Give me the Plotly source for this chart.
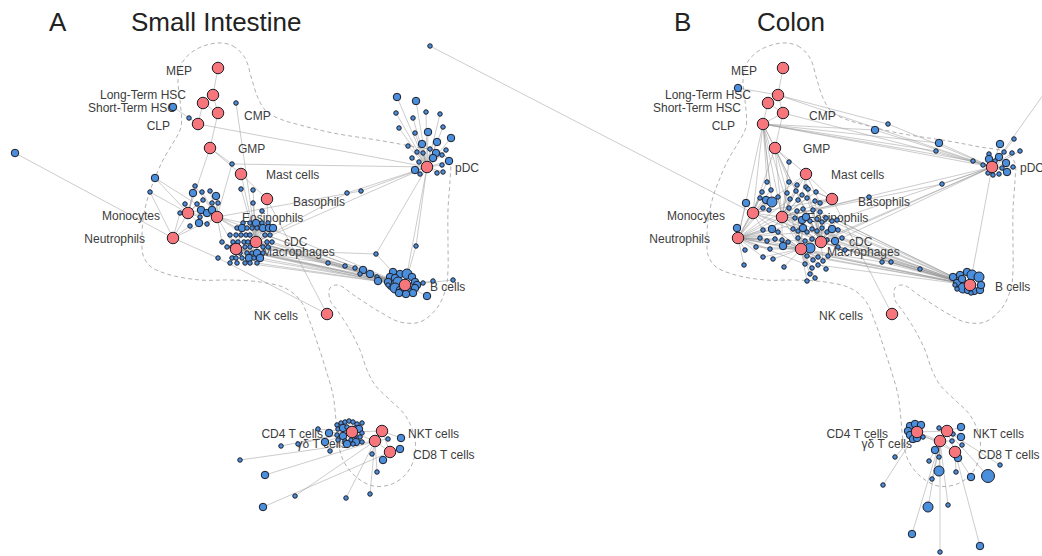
import plotly.graph_objects as go

# ---------------------------------------------------------------------------
# Cell-type hubs (shared layout for both tissues, layout units)
# ---------------------------------------------------------------------------
HUB_KEYS = ["MEP", "LT", "ST", "CMP", "CLP", "GMP", "MAST", "BASO", "MONO", "EOS",
            "NEUT", "CDC", "MAC", "PDC", "BC", "NK", "CD4", "NKT", "GD", "CD8"]
HUB_NAMES = ["MEP", "Long-Term HSC", "Short-Term HSC", "CMP", "CLP", "GMP", "Mast cells",
             "Basophils", "Monocytes", "Eosinophils", "Neutrophils", "cDC", "Macrophages",
             "pDC", "B cells", "NK cells", "CD4 T cells", "NKT cells", "γδ T cells", "CD8 T cells"]
HUB_X = [218, 213, 203, 218, 198, 210, 241, 267, 188, 217, 173, 256, 236, 427, 405, 327, 352, 382, 375, 390]
HUB_Y = [68, 95, 103, 113, 124, 148, 174, 199, 213, 217, 238, 242, 249, 167, 285, 314, 432, 431, 441, 452]

# label anchor points (L = text ends at the point, R = text starts at the point)
LABEL_X = [192, 186, 176, 244, 170, 238, 266, 293, 160, 242, 145, 284, 262, 455, 430, 298, 323, 408, 347, 413]
LABEL_Y = [72, 96, 109, 117, 127, 150, 176, 203, 217, 219, 240, 243, 253, 169, 288, 317, 435, 435, 445, 456]
LABEL_SIDE = ["L", "L", "L", "R", "L", "R", "R", "R", "L", "R", "L", "R", "R", "R", "R", "L", "L", "R", "L", "R"]

# outline of the hematopoietic region (dashed contour)
CONTOUR_X = [217, 233, 245, 252, 258, 266, 280, 300, 333, 383, 415, 440, 450, 450, 448, 448, 448, 446, 437,
             420, 400, 380, 355, 338, 330, 330, 337, 350, 360, 367, 375, 390, 405, 414, 415, 407, 392, 373,
             355, 343, 338, 336, 333, 326, 318, 310, 300, 285, 260, 230, 200, 167, 150, 143, 142, 143, 148,
             155, 163, 173, 181, 180, 178, 182, 195, 217]
CONTOUR_Y = [43, 46, 58, 80, 98, 111, 119, 125, 133, 141, 147, 152, 163, 180, 210, 245, 270, 288, 308,
             322, 322, 312, 296, 285, 288, 300, 310, 330, 350, 370, 385, 400, 415, 435, 455, 473, 484, 486,
             476, 460, 440, 420, 395, 370, 345, 322, 300, 288, 282, 280, 280, 274, 266, 255, 240, 220, 197,
             178, 160, 143, 127, 100, 80, 63, 50, 43]

# ---------------------------------------------------------------------------
# Hub-to-hub links
# ---------------------------------------------------------------------------
A_HUB_LINKS = ["MEP LT", "LT ST", "LT CMP", "ST CMP", "ST CLP", "CMP GMP", "CLP PDC", "GMP MONO",
               "GMP MAST", "MAST BASO", "BASO NK", "MAST CDC", "MONO NEUT", "MONO EOS", "NEUT EOS",
               "EOS CDC", "EOS MAC", "CDC MAC", "CDC BC", "MAC BC", "EOS BC", "CDC PDC", "PDC BC",
               "CD4 GD", "CD4 NKT", "NKT GD", "GD CD8", "NKT CD8"]
B_HUB_LINKS = ["MEP LT", "LT ST", "LT CMP", "ST CMP", "ST CLP", "CMP CLP", "CMP GMP", "CLP GMP",
               "CLP PDC", "CMP PDC", "LT PDC", "CLP NEUT", "CLP MONO", "CLP EOS", "CLP MAC", "CLP CDC",
               "GMP MONO", "GMP EOS", "GMP CDC", "GMP MAST", "MAST EOS", "MAST MONO", "MAST BASO",
               "BASO EOS", "BASO MONO", "BASO NK", "MONO NEUT", "MONO EOS", "MONO CDC", "MONO MAC",
               "NEUT EOS", "NEUT CDC", "NEUT MAC", "EOS CDC", "EOS MAC", "CDC MAC", "CDC BC", "MAC BC",
               "EOS BC", "MONO BC", "NEUT BC", "CDC PDC", "EOS PDC", "MAC PDC", "PDC BC",
               "CD4 GD", "CD4 NKT", "NKT GD", "GD CD8", "NKT CD8", "CD4 CD8"]

# ---------------------------------------------------------------------------
# Marker-gene nodes: (x, y, degree class, linked hubs)
# ---------------------------------------------------------------------------
A_GENES = [
    (173, 107, 2, "CLP"), (189, 118, 1, "CLP"), (236, 103, 1, "CDC"), (232, 164, 1, "GMP PDC EOS"),
    (15, 153, 2, "NEUT"), (218, 258, 1, "NEUT NK"), (155, 178, 2, "EOS MONO"), (150, 192, 1, "MONO NEUT"),
    (347, 193, 1, "CDC PDC"), (361, 191, 1, "EOS PDC"), (376, 254, 1, "MAC PDC BC"), (416, 246, 1, "PDC BC"),
    # monocyte / eosinophil group
    (195, 186, 1, "MONO EOS"), (193, 193, 2, "MONO"), (202, 192, 1, "EOS"), (210, 191, 1, "EOS"),
    (216, 196, 2, "EOS"), (212, 203, 1, "EOS"), (203, 200, 1, "MONO"), (197, 204, 1, "MONO"),
    (185, 204, 1, "MONO"), (201, 210, 2, "MONO EOS"), (207, 213, 2, "EOS"), (212, 210, 2, "EOS"),
    (218, 203, 1, "EOS"), (200, 217, 1, "MONO"), (199, 223, 2, "MONO"), (207, 224, 1, "EOS"),
    (190, 226, 1, "NEUT"), (180, 213, 1, "NEUT"),
    # cDC / macrophage group
    (241, 189, 1, "CDC"), (253, 190, 1, "CDC"), (253, 203, 1, "CDC"), (262, 211, 1, "CDC"),
    (243, 223, 1, "EOS"), (250, 223, 1, "CDC"), (256, 223, 2, "CDC"), (262, 223, 1, "CDC"), (268, 223, 1, "CDC BASO"),
    (237, 228, 1, "EOS"), (242, 228, 2, "MAC"), (247, 228, 1, "CDC"), (252, 228, 1, "CDC"), (257, 228, 1, "CDC"),
    (263, 228, 2, "CDC"), (269, 228, 2, "CDC BC"), (273, 228, 2, "CDC"),
    (230, 235, 1, "MAC"), (236, 235, 1, "MAC"), (241, 235, 1, "MAC"), (246, 235, 1, "CDC"), (250, 235, 1, "CDC"),
    (265, 235, 1, "CDC BC"), (270, 235, 1, "CDC"),
    (222, 242, 1, "MAC EOS"), (233, 242, 1, "MAC"), (238, 242, 1, "MAC"), (244, 242, 1, "CDC"), (248, 242, 1, "CDC"),
    (267, 242, 1, "CDC BC"), (272, 242, 1, "CDC BC"),
    (227, 247, 1, "MAC"), (232, 247, 1, "MAC"), (245, 247, 1, "MAC"), (250, 247, 1, "CDC"), (263, 247, 1, "CDC BC"),
    (268, 247, 1, "CDC BC"),
    (240, 253, 1, "MAC"), (247, 253, 1, "MAC"), (252, 253, 1, "CDC"), (257, 253, 2, "CDC BC"), (263, 253, 1, "MAC BC"),
    (232, 258, 1, "MAC"), (236, 258, 1, "MAC"), (242, 258, 1, "MAC"), (249, 258, 2, "MAC BC"), (254, 258, 1, "MAC"),
    (260, 258, 2, "CDC BC"),
    (230, 263, 1, "MAC"), (237, 263, 1, "MAC"), (245, 263, 1, "MAC BC"), (250, 263, 1, "MAC"), (257, 263, 1, "MAC BC"),
    # towards B cells
    (328, 263, 1, "CDC BC"), (345, 266, 1, "MAC BC"), (355, 268, 1, "CDC BC"), (363, 270, 2, "BC"),
    (360, 274, 1, "MAC BC"), (370, 274, 2, "BC CDC"), (377, 277, 1, "BC"), (378, 281, 2, "BC MAC"),
    # B cells
    (393, 272, 2, "BC"), (400, 274, 2, "BC"), (407, 274, 3, "BC"), (412, 277, 2, "BC"), (390, 277, 2, "BC"),
    (395, 278, 2, "BC"), (388, 282, 2, "BC"), (398, 282, 3, "BC"), (415, 282, 2, "BC"), (417, 285, 2, "BC"),
    (415, 288, 2, "BC"), (390, 287, 1, "BC"), (395, 288, 3, "BC"), (400, 290, 2, "BC"), (404, 291, 3, "BC"),
    (408, 291, 2, "BC"), (413, 293, 2, "BC"), (399, 293, 2, "BC"), (406, 294, 2, "BC"), (388, 285, 1, "BC"),
    (423, 283, 1, "BC"), (433, 281, 1, "BC"), (453, 280, 1, "BC"), (427, 296, 2, "BC"),
    # pDC
    (397, 97, 2, "PDC"), (416, 101, 2, "PDC"), (396, 113, 1, "PDC"), (413, 118, 1, "PDC"), (426, 112, 1, "PDC"),
    (440, 114, 1, "PDC"), (399, 128, 1, "PDC"), (415, 133, 1, "PDC"), (428, 132, 2, "PDC"), (443, 127, 1, "PDC"),
    (451, 138, 2, "PDC"), (408, 146, 1, "PDC"), (422, 144, 2, "PDC"), (430, 149, 1, "PDC"), (437, 142, 2, "PDC"),
    (446, 150, 1, "PDC"), (417, 152, 1, "PDC"), (423, 153, 1, "PDC"), (436, 153, 2, "PDC"), (442, 155, 1, "PDC"),
    (433, 158, 2, "PDC"), (412, 158, 1, "PDC"), (419, 162, 1, "PDC"), (449, 161, 2, "PDC"), (442, 165, 1, "PDC"),
    (415, 170, 2, "PDC"), (437, 173, 1, "PDC"), (443, 172, 1, "PDC"), (420, 174, 1, "PDC"),
    # T / NKT cells
    (240, 460, 1, "GD"), (265, 475, 2, "GD"), (263, 507, 2, "CD8"), (295, 496, 1, "GD"), (281, 446, 1, "CD4"),
    (346, 498, 1, "GD"), (370, 494, 1, "GD"), (377, 472, 1, "GD"), (383, 460, 2, "CD8"), (400, 449, 2, "CD8"),
    (401, 438, 2, "NKT"), (388, 439, 1, "NKT GD"), (372, 454, 1, "GD"), (318, 429, 1, "CD4"), (329, 433, 2, "CD4"),
    (325, 442, 2, "CD4"), (330, 451, 1, "CD4"), (298, 444, 1, "CD4"),
    (337, 425, 1, "CD4"), (341, 423, 1, "CD4"), (345, 422, 1, "CD4"), (349, 421, 1, "CD4"), (353, 422, 1, "CD4"),
    (357, 424, 1, "CD4"), (362, 423, 1, "CD4"), (338, 429, 1, "CD4"), (343, 428, 2, "CD4"), (347, 427, 1, "CD4"),
    (355, 428, 1, "CD4"), (359, 429, 2, "CD4"), (362, 433, 1, "CD4"), (337, 435, 1, "CD4"), (343, 436, 2, "CD4"),
    (355, 436, 1, "CD4"), (360, 437, 1, "CD4"), (338, 440, 1, "CD4"), (345, 441, 1, "CD4"), (351, 440, 1, "CD4"),
    (356, 442, 2, "CD4"), (362, 442, 1, "CD4"), (347, 444, 2, "CD4"), (353, 444, 1, "CD4"),
]

B_GENES = [
    (-135, 46, 1, "MONO"), (510, 50, 1, "PDC"), (173, 88, 2, "LT"), (224, 162, 1, "GMP EOS"),
    (323, 124, 1, "LT PDC"), (310, 130, 2, "CLP PDC"), (374, 143, 2, "CLP PDC"), (371, 151, 1, "CLP PDC"),
    (408, 161, 1, "CLP PDC"), (377, 184, 1, "EOS PDC"), (304, 197, 1, "EOS"),
    # myeloid core
    (202, 182, 1, "CLP MONO"), (224, 182, 1, "GMP EOS"), (232, 185, 1, "MAST EOS"), (241, 187, 1, "MAST CDC"),
    (197, 192, 1, "NEUT MONO"), (206, 190, 1, "MONO CLP"), (222, 193, 1, "EOS GMP"), (231, 191, 1, "EOS"),
    (237, 195, 1, "MAST EOS"), (243, 189, 1, "BASO CDC"), (251, 192, 1, "BASO EOS"),
    (181, 203, 2, "NEUT MONO"), (195, 198, 1, "NEUT"), (201, 200, 2, "MONO NEUT"), (207, 202, 3, "MONO CLP"),
    (213, 197, 1, "MONO EOS"), (225, 199, 1, "EOS NEUT"), (233, 200, 1, "EOS"), (242, 198, 1, "EOS CDC"),
    (250, 201, 1, "BASO CDC"), (255, 203, 1, "BASO MAST"),
    (198, 208, 1, "NEUT MONO"), (204, 210, 1, "MONO"), (224, 208, 1, "EOS NEUT"), (232, 211, 1, "EOS MAC"),
    (238, 209, 1, "EOS CDC"), (248, 210, 1, "CDC BASO"), (255, 212, 1, "CDC BC"),
    (230, 218, 1, "EOS NEUT"), (237, 220, 2, "EOS MAC"), (241, 217, 2, "EOS CDC"), (245, 221, 1, "CDC NEUT"),
    (252, 219, 1, "CDC BC"), (257, 222, 1, "CDC"), (261, 218, 1, "CDC BC"), (267, 221, 1, "CDC PDC"),
    (272, 220, 1, "CDC BC"),
    (172, 228, 2, "NEUT"), (198, 230, 1, "NEUT MONO"), (207, 229, 2, "NEUT EOS"), (213, 232, 1, "NEUT MAC"),
    (228, 229, 1, "EOS MAC"), (233, 231, 1, "MAC CDC"), (238, 228, 2, "EOS MAC"), (242, 232, 1, "CDC NEUT"),
    (247, 229, 1, "CDC"), (252, 231, 1, "CDC BC"), (257, 228, 1, "CDC MAC"), (262, 232, 1, "CDC BC"),
    (267, 229, 2, "CDC"), (273, 230, 1, "CDC BC"),
    (195, 238, 1, "NEUT"), (202, 241, 1, "NEUT MAC"), (210, 239, 1, "NEUT MAC"), (217, 240, 1, "MAC EOS"),
    (223, 242, 1, "MAC NEUT"), (233, 238, 1, "MAC CDC"), (240, 241, 1, "MAC"), (247, 239, 1, "CDC MAC"),
    (262, 240, 1, "CDC BC"), (270, 241, 2, "CDC BC"), (277, 238, 1, "CDC PDC"),
    (180, 250, 1, "NEUT"), (191, 247, 1, "NEUT MAC"), (205, 249, 1, "NEUT MAC"), (218, 246, 2, "MAC NEUT"),
    (245, 248, 3, "MAC CDC"), (273, 247, 1, "CDC BC"), (280, 250, 1, "CDC BC"),
    (198, 257, 1, "NEUT MAC"), (208, 259, 1, "MAC"), (242, 256, 1, "MAC BC"), (248, 260, 1, "MAC"),
    (253, 257, 1, "MAC BC"), (258, 261, 1, "MAC CDC"), (263, 256, 1, "MAC BC"),
    (179, 265, 1, "NEUT"), (219, 267, 1, "MAC"), (240, 264, 1, "MAC NEUT"), (247, 268, 1, "MAC"),
    (253, 265, 1, "MAC BC"), (261, 269, 1, "MAC"), (245, 274, 1, "MAC"), (250, 278, 1, "MAC"), (242, 281, 1, "MAC"),
    # towards B cells
    (317, 262, 1, "MAC BC"), (326, 262, 1, "CDC BC"), (355, 269, 1, "CDC BC"),
    # B cells
    (388, 277, 2, "BC"), (395, 275, 2, "BC"), (402, 272, 2, "BC"), (407, 275, 3, "BC"), (414, 277, 3, "BC"),
    (392, 283, 2, "BC"), (397, 279, 2, "BC"), (398, 288, 3, "BC"), (392, 289, 1, "BC"), (403, 290, 2, "BC"),
    (409, 291, 2, "BC"), (415, 290, 2, "BC"), (416, 285, 2, "BC"), (390, 285, 1, "BC"), (406, 293, 1, "BC"),
    # pDC
    (435, 144, 2, "PDC"), (449, 139, 1, "PDC"), (455, 151, 1, "PDC"), (424, 154, 1, "PDC"), (434, 157, 2, "PDC"),
    (439, 152, 1, "PDC"), (447, 153, 1, "PDC"), (418, 165, 1, "PDC"), (441, 163, 2, "PDC"), (448, 167, 1, "PDC"),
    (437, 168, 1, "PDC"), (423, 173, 1, "PDC"), (428, 175, 1, "PDC"), (434, 174, 1, "PDC"), (442, 172, 2, "PDC"),
    (424, 159, 2, "PDC"), (430, 161, 1, "PDC"),
    # T / NKT cells
    (345, 426, 2, "CD4"), (350, 424, 2, "CD4"), (356, 425, 2, "CD4"), (343, 431, 2, "CD4"), (345, 435, 2, "CD4"),
    (348, 439, 2, "CD4"), (352, 438, 2, "CD4"), (358, 437, 1, "CD4 GD"),
    (374, 428, 1, "NKT"), (388, 434, 1, "NKT"), (396, 427, 2, "NKT"), (396, 437, 2, "NKT"), (387, 441, 1, "GD"),
    (397, 445, 1, "CD8"), (370, 450, 2, "GD"), (374, 457, 1, "GD"), (364, 461, 1, "GD"), (393, 458, 2, "CD8"),
    (374, 471, 3, "GD"), (391, 472, 1, "CD8"), (367, 479, 1, "GD"), (406, 477, 2, "CD8"), (423, 476, 4, "NKT"),
    (435, 465, 1, "NKT"), (330, 457, 1, "CD4"), (318, 485, 1, "CD4"), (363, 507, 3, "GD"), (383, 505, 1, "GD"),
    (347, 534, 2, "GD"), (375, 552, 1, "GD"), (415, 546, 2, "CD8"),
]

SIZE_PX = {1: 4.5, 2: 7.5, 3: 10, 4: 13}
HUB_COLOR = "#F7767C"
GENE_COLOR = "#4A8EDC"
OUTLINE = "#1E1E28"
EDGE_COLOR = "rgba(150,150,150,0.62)"
LABEL_COLOR = "#3C3C3C"
FONT = "Arial, Liberation Sans, sans-serif"

hub_pos = {k: (x, y) for k, x, y in zip(HUB_KEYS, HUB_X, HUB_Y)}

fig = go.Figure()


def add_panel(xref, hub_links, genes):
    # dashed region outline
    fig.add_trace(go.Scatter(x=CONTOUR_X, y=CONTOUR_Y, mode="lines", xaxis=xref,
                             line=dict(color="#A8A8A8", width=0.9, dash="4px,3px", shape="spline", smoothing=1.0),
                             hoverinfo="skip", showlegend=False))
    # edges
    ex, ey = [], []
    for pair in hub_links:
        a, b = pair.split()
        ex += [hub_pos[a][0], hub_pos[b][0], None]
        ey += [hub_pos[a][1], hub_pos[b][1], None]
    for gx, gy, _, links in genes:
        for h in links.split():
            ex += [gx, hub_pos[h][0], None]
            ey += [gy, hub_pos[h][1], None]
    fig.add_trace(go.Scatter(x=ex, y=ey, mode="lines", xaxis=xref,
                             line=dict(color=EDGE_COLOR, width=0.8),
                             hoverinfo="skip", showlegend=False))
    # labels (under the nodes)
    for side, pos in (("L", "middle left"), ("R", "middle right")):
        idx = [i for i, s in enumerate(LABEL_SIDE) if s == side]
        fig.add_trace(go.Scatter(x=[LABEL_X[i] for i in idx], y=[LABEL_Y[i] for i in idx],
                                 text=[HUB_NAMES[i] for i in idx], mode="text", textposition=pos,
                                 textfont=dict(family=FONT, size=12, color=LABEL_COLOR),
                                 xaxis=xref, hoverinfo="skip", showlegend=False))
    # gene nodes
    fig.add_trace(go.Scatter(x=[g[0] for g in genes], y=[g[1] for g in genes], mode="markers", xaxis=xref,
                             marker=dict(size=[SIZE_PX[g[2]] for g in genes], color=GENE_COLOR, opacity=1,
                                         line=dict(color=OUTLINE, width=1)),
                             hoverinfo="skip", showlegend=False))
    # cell-type hubs
    fig.add_trace(go.Scatter(x=HUB_X, y=HUB_Y, mode="markers", xaxis=xref,
                             marker=dict(size=11.5, color=HUB_COLOR, opacity=1, line=dict(color=OUTLINE, width=1)),
                             hoverinfo="skip", showlegend=False))


add_panel("x", A_HUB_LINKS, A_GENES)
add_panel("x2", B_HUB_LINKS, B_GENES)

titles = [("A", 47), ("Small Intestine", 129), ("B", 672), ("Colon", 755)]
for txt, px in titles:
    fig.add_annotation(text=txt, x=px / 1042, y=1 - 22 / 556, xref="paper", yref="paper",
                       xanchor="left", yanchor="middle", showarrow=False,
                       font=dict(family=FONT, size=26, color="#222222"))

fig.update_layout(
    width=1042, height=556, margin=dict(l=0, r=0, t=0, b=0),
    paper_bgcolor="white", plot_bgcolor="white", showlegend=False,
    xaxis=dict(range=[0, 1042], visible=False, domain=[0, 1], fixedrange=True),
    xaxis2=dict(range=[-565, 477], visible=False, overlaying="x", anchor="y", fixedrange=True),
    yaxis=dict(range=[556, 0], visible=False, fixedrange=True),
)

fig.write_html("out.html")
